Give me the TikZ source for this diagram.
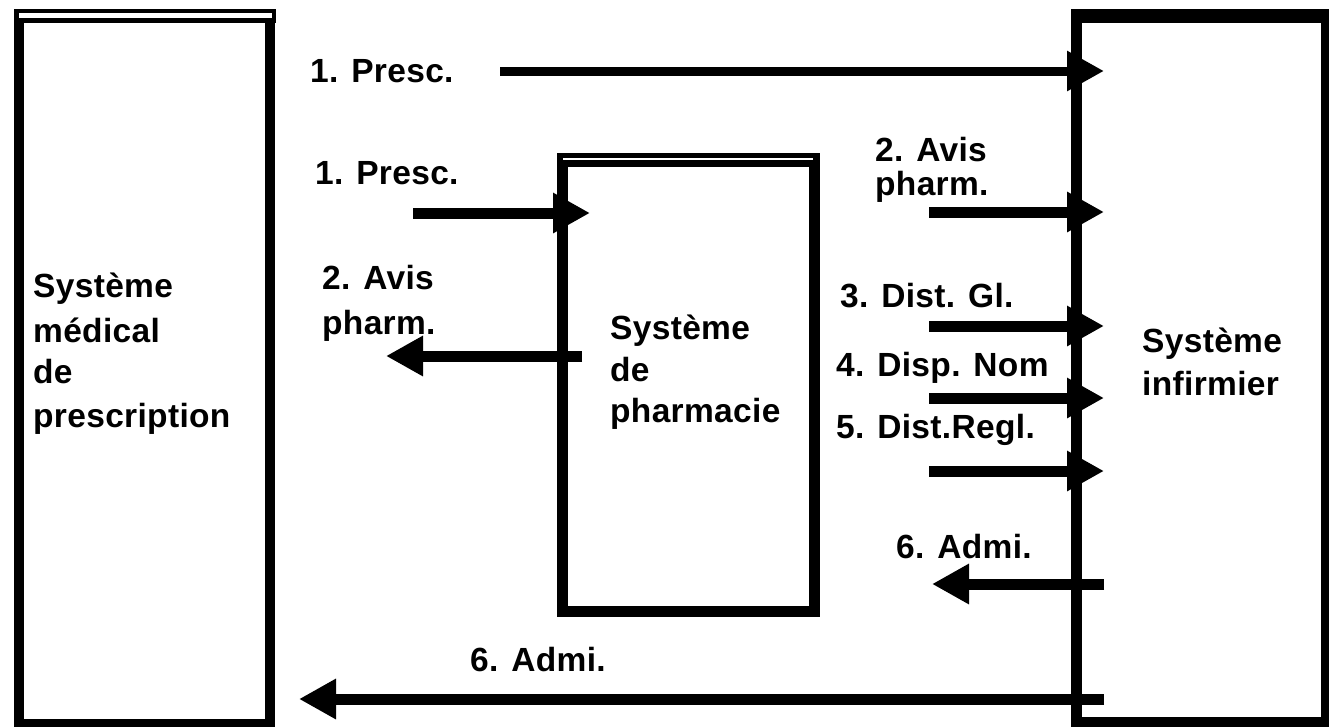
\documentclass[tikz,border=0pt]{standalone}
\usepackage{fontspec}
\setmainfont{Liberation Sans}
\newfontfamily\lblfam{Liberation Sans}[LetterSpace=1]
\newcommand\lblfont{\lblfam\bfseries\fontsize{33.5pt}{40pt}\selectfont}
\usetikzlibrary{arrows.meta}
\begin{document}
\begin{tikzpicture}[x=1pt,y=-1pt,
  lbl/.style={anchor=base west, inner sep=0pt, font=\lblfont},
  boxline/.style={draw, line width=11pt, rectangle, inner sep=0pt, outer sep=0pt},
  topbar/.style={line width=14pt},
  gap/.style={draw=white},
  arr/.style={line width=11pt, -{Triangle[length=37pt,width=38pt]}}]
\useasboundingbox (0,0) rectangle (1329,726);
% boxes
\node[boxline, line width=10pt, minimum width=251pt, minimum height=708pt] (med) at (144.5,370) {};
\draw[topbar] (14,16) -- (276,16);
\draw[gap, line width=4.5pt] (19,15.5) -- (272,15.5);
\node[boxline, minimum width=252pt, minimum height=451pt] (pha) at (688.5,385.5) {};
\draw[topbar] (557,160) -- (820,160);
\draw[gap, line width=2pt] (563,159) -- (813,159);
\node[boxline, minimum width=249.5pt, minimum height=706pt] (inf) at (1201.25,369) {};
\draw[topbar] (1071,16) -- (1332,16);
% box texts
\node[lbl] (m1) at (33,297) {Système};
\node[lbl] (m2) at (33,342) {médical};
\node[lbl] (m3) at (33,383) {de};
\node[lbl] (m4) at (33,427) {prescription};
\node[lbl] (p1) at (610,339) {Système};
\node[lbl] (p2) at (610,381) {de};
\node[lbl] (p3) at (610,422) {pharmacie};
\node[lbl] (i1) at (1142,352) {Système};
\node[lbl] (i2) at (1142,395) {infirmier};
% arrow end points
\coordinate (a1s) at (500,71);  \coordinate (a1e) at (1104,71);
\coordinate (a2s) at (413,213); \coordinate (a2e) at (590,213);
\coordinate (a3s) at (582,356); \coordinate (a3e) at (386,356);
\coordinate (a4s) at (929,212); \coordinate (a4e) at (1104,212);
\coordinate (a5s) at (929,326); \coordinate (a5e) at (1104,326);
\coordinate (a6s) at (929,398); \coordinate (a6e) at (1104,398);
\coordinate (a7s) at (929,471); \coordinate (a7e) at (1104,471);
\coordinate (a8s) at (1104,584); \coordinate (a8e) at (932,584);
\coordinate (a9s) at (1104,699); \coordinate (a9e) at (299,699);
\draw[arr, line width=9pt] (a1s) -- (a1e);
\draw[arr] (a2s) -- (a2e);
\draw[arr] (a3s) -- (a3e);
\draw[arr] (a4s) -- (a4e);
\draw[arr] (a5s) -- (a5e);
\draw[arr] (a6s) -- (a6e);
\draw[arr] (a7s) -- (a7e);
\draw[arr] (a8s) -- (a8e);
\draw[arr] (a9s) -- (a9e);
% arrow labels
\node[lbl] (l1) at (310,82) {1. Presc.};
\node[lbl] (l2) at (315,184) {1. Presc.};
\node[lbl] (l3a) at (322,289) {2. Avis};
\node[lbl] (l3b) at (322,334) {pharm.};
\node[lbl] (l4a) at (875,161) {2. Avis};
\node[lbl] (l4b) at (875,195) {pharm.};
\node[lbl] (l5) at (840,307) {3. Dist. Gl.};
\node[lbl] (l6) at (836,376) {4. Disp. Nom};
\node[lbl] (l7) at (836,438) {5. Dist.Regl.};
\node[lbl] (l8) at (896,558) {6. Admi.};
\node[lbl] (l9) at (470,671) {6. Admi.};
\end{tikzpicture}
\end{document}
